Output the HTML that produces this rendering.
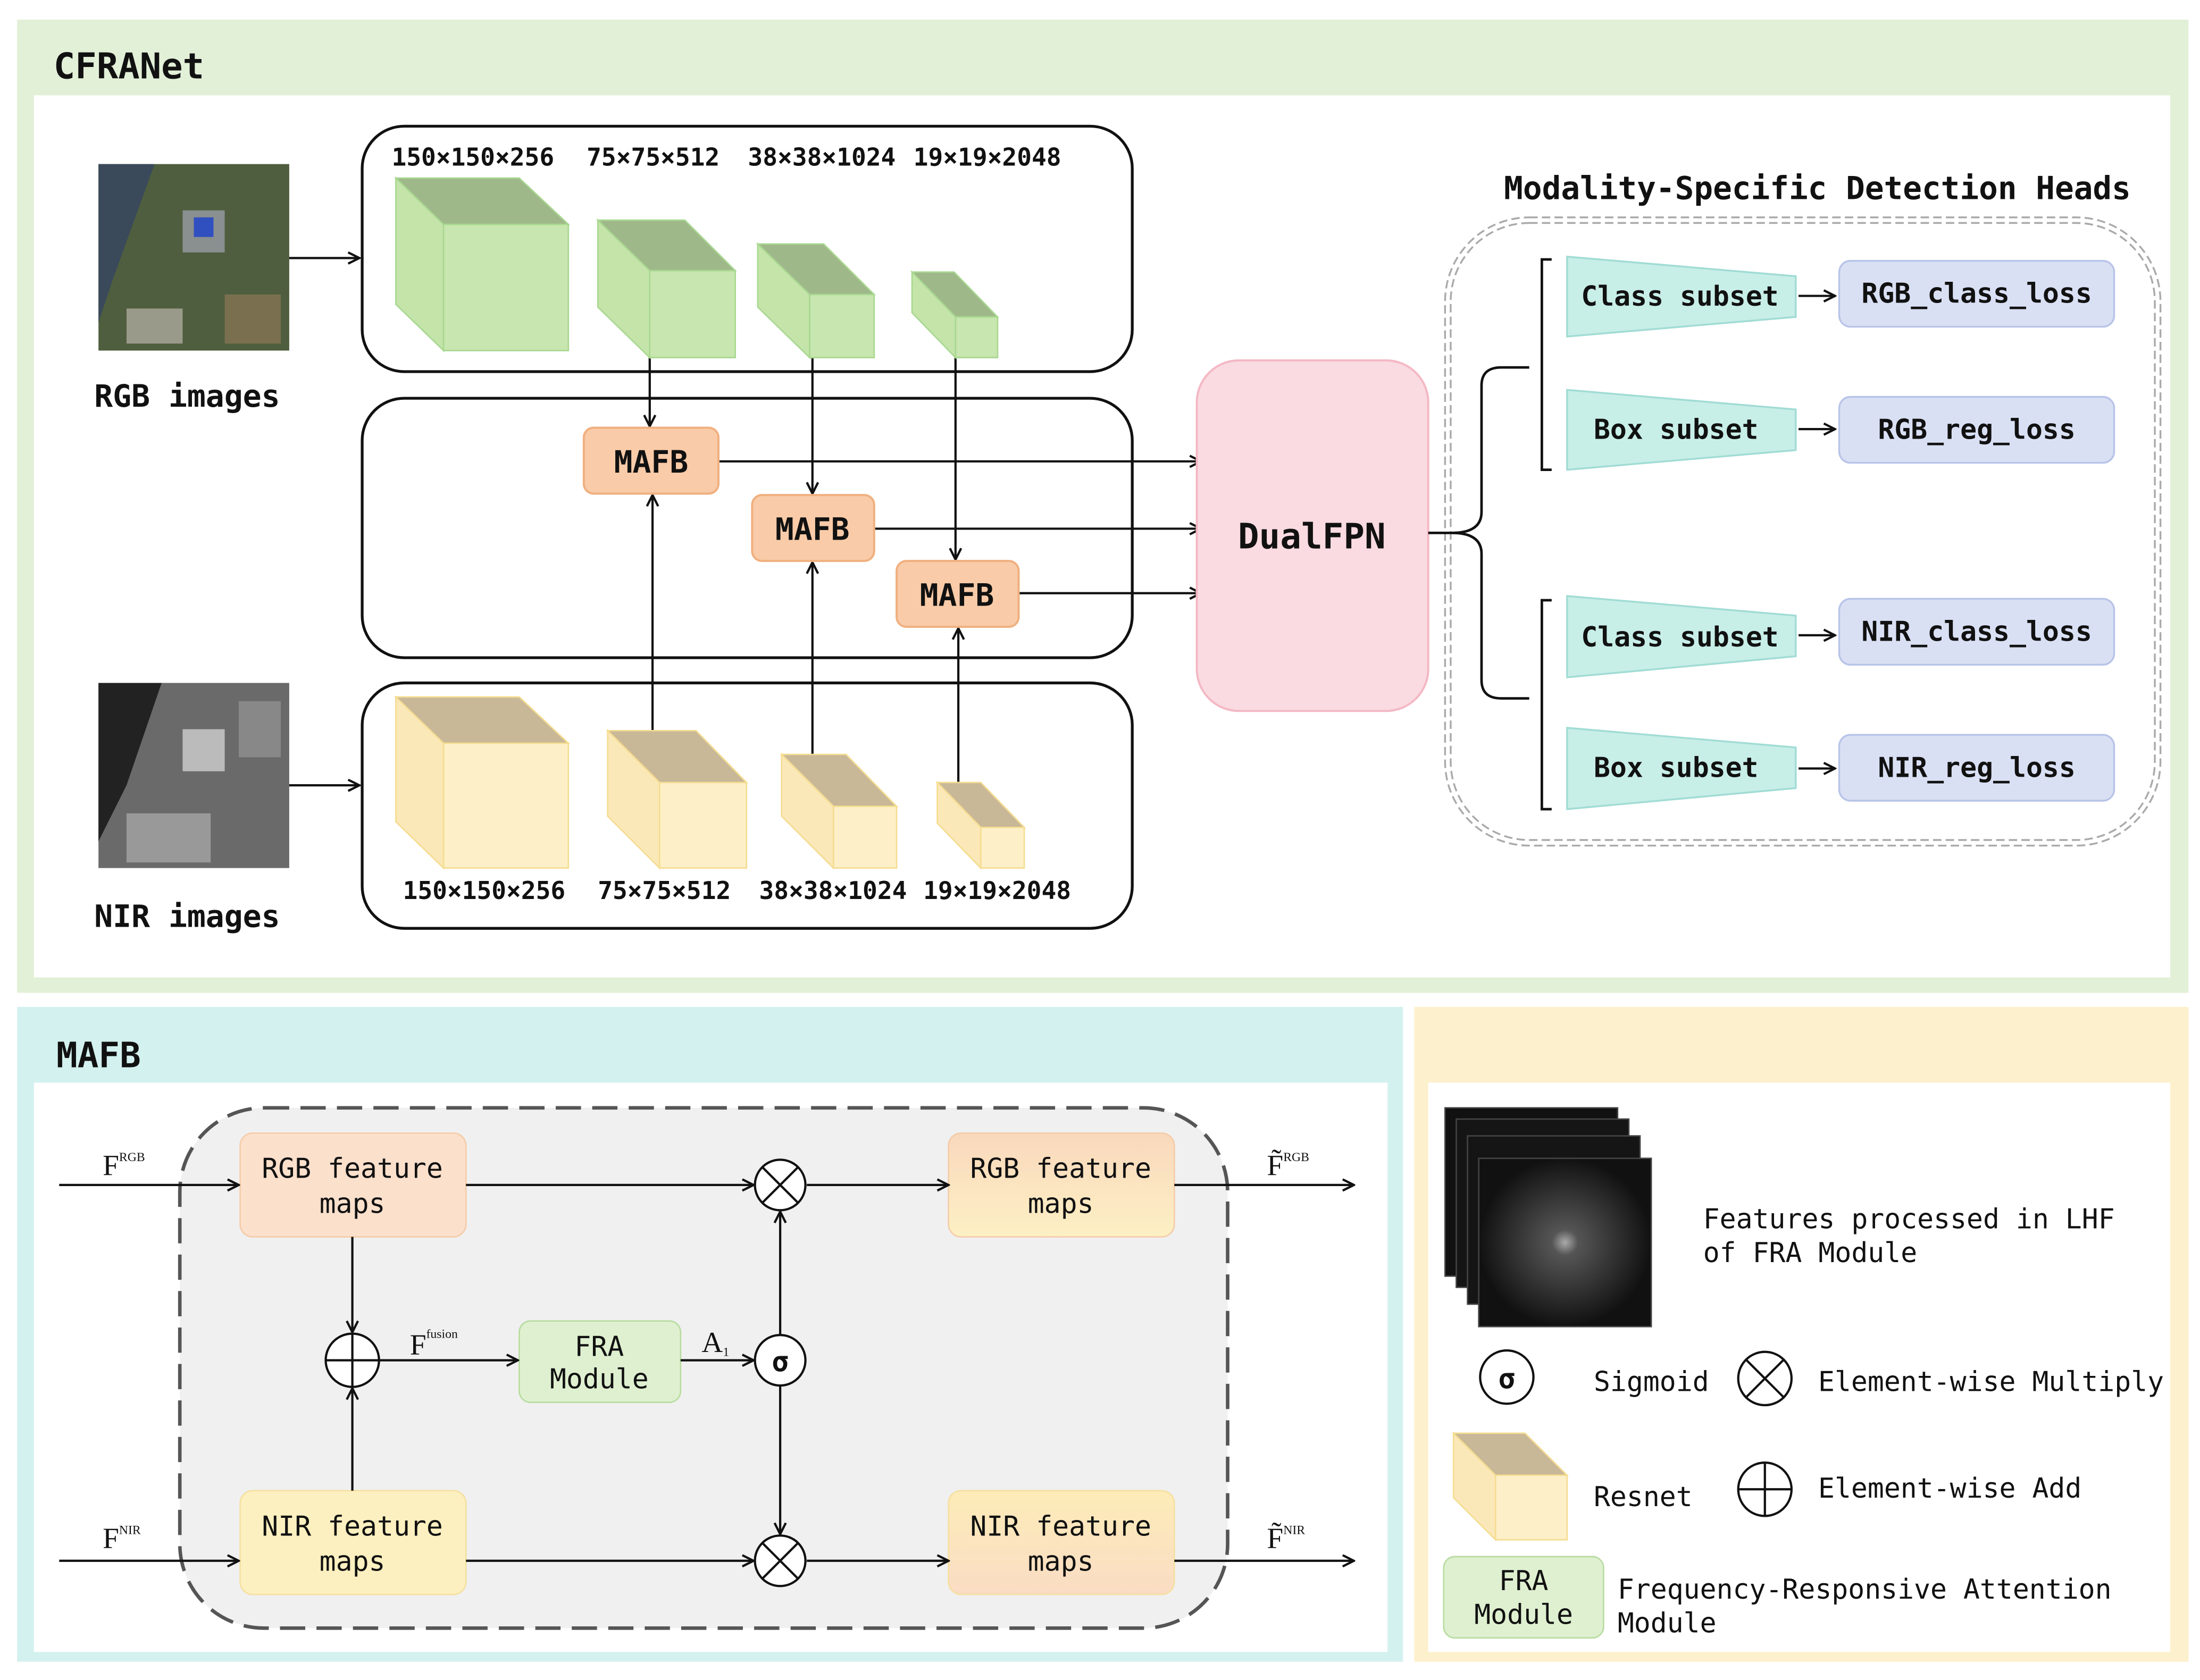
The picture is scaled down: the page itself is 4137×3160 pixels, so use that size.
<!DOCTYPE html>
<html><head><meta charset="utf-8"><style>
html,body{margin:0;padding:0;background:#fff;}
svg{display:block;}
text{font-family:"DejaVu Sans Mono","Liberation Mono",monospace;fill:#111;}
.b{font-weight:bold;}
.s{font-family:"Liberation Serif",serif;}
</style></head><body>
<svg width="4137" height="3160" viewBox="0 0 1568 1198" xmlns="http://www.w3.org/2000/svg">
<defs>
<marker id="a" markerWidth="10" markerHeight="10" refX="9" refY="5" orient="auto" markerUnits="userSpaceOnUse"><path d="M1,1 L9,5 L1,9" fill="none" stroke="#111" stroke-width="1.6"/></marker>
<linearGradient id="g1" x1="0" y1="0" x2="0" y2="1"><stop offset="0" stop-color="#f9d8bc"/><stop offset="1" stop-color="#fdf0c4"/></linearGradient>
<linearGradient id="g2" x1="0" y1="0" x2="0" y2="1"><stop offset="0" stop-color="#fdecb8"/><stop offset="1" stop-color="#fadcc4"/></linearGradient>
<radialGradient id="fr"><stop offset="0" stop-color="#aaa"/><stop offset="0.15" stop-color="#555"/><stop offset="1" stop-color="#111"/></radialGradient>
</defs>
<rect width="1568" height="1198" fill="#fff"/>
<rect x="12" y="14" width="1548" height="694" fill="#e3f0d8"/>
<rect x="24" y="68" width="1523" height="629" fill="#fff"/>
<text x="38" y="56" class="b" font-size="25.5">CFRANet</text>
<rect x="12" y="718" width="988" height="467" fill="#d3f1ef"/>
<rect x="24" y="772" width="965" height="406" fill="#fff"/>
<text x="40" y="761" class="b" font-size="25">MAFB</text>
<rect x="1008" y="718" width="552" height="467" fill="#fdf0cc"/>
<rect x="1018" y="772" width="529" height="406" fill="#fff"/>

<rect x="70" y="117" width="136" height="133" fill="#4f5e3e"/>
<path d="M70,117 L110,117 L80,200 L70,230Z" fill="#3a4a5a"/>
<rect x="130" y="150" width="30" height="30" fill="#8a8f90"/><rect x="138" y="155" width="14" height="14" fill="#3050c0"/>
<rect x="160" y="210" width="40" height="35" fill="#7a7050"/><rect x="90" y="220" width="40" height="25" fill="#9a9a8a"/>
<rect x="70" y="487" width="136" height="132" fill="#6a6a6a"/>
<path d="M70,487 L115,487 L90,560 L70,600Z" fill="#222"/>
<rect x="130" y="520" width="30" height="30" fill="#bbb"/><rect x="90" y="580" width="60" height="35" fill="#999"/><rect x="170" y="500" width="30" height="40" fill="#888"/>
<text x="67" y="290" class="b" font-size="22">RGB images</text>
<text x="67" y="661" class="b" font-size="22">NIR images</text>

<g fill="none" stroke="#111" stroke-width="2">
<rect x="258" y="90" width="549" height="175" rx="30"/>
<rect x="258" y="284" width="549" height="185" rx="30"/>
<rect x="258" y="487" width="549" height="175" rx="30"/>
</g>
<g stroke="#111" stroke-width="1.6" fill="none" marker-end="url(#a)">
<path d="M206,184 H256"/><path d="M206,560 H256"/>
<path d="M463,255 V304"/><path d="M579,255 V352"/><path d="M681,255 V399"/>
<path d="M465,521 V353"/><path d="M579,538 V401"/><path d="M683,558 V448"/>
<path d="M512,329 H856"/><path d="M623,377 H856"/><path d="M726,423 H856"/>
<path d="M1282,211 H1308"/><path d="M1282,306 H1308"/><path d="M1282,453 H1308"/><path d="M1282,548 H1308"/>
</g>

<g stroke="#a8d890" stroke-width="1">
<polygon points="282,127 370,127 405,160 316,160" fill="#9fb88a"/><polygon points="282,127 316,160 316,250 282,217" fill="#c4e4aa"/><rect x="316" y="160" width="89" height="90" fill="#c8e6b0"/>
<polygon points="426,157 488,157 524,193 463,193" fill="#9fb88a"/><polygon points="426,157 463,193 463,255 426,219" fill="#c4e4aa"/><rect x="463" y="193" width="61" height="62" fill="#c8e6b0"/>
<polygon points="540,174 587,174 623,210 577,210" fill="#9fb88a"/><polygon points="540,174 577,210 577,255 540,219" fill="#c4e4aa"/><rect x="577" y="210" width="46" height="45" fill="#c8e6b0"/>
<polygon points="650,194 680,194 711,226 681,226" fill="#9fb88a"/><polygon points="650,194 681,226 681,255 650,223" fill="#c4e4aa"/><rect x="681" y="226" width="30" height="29" fill="#c8e6b0"/>
</g>
<g font-size="17.5">
<text x="279" y="118" class="b">150×150×256</text><text x="418" y="118" class="b">75×75×512</text><text x="533" y="118" class="b">38×38×1024</text><text x="651" y="118" class="b">19×19×2048</text>
<text x="287" y="641" class="b">150×150×256</text><text x="426" y="641" class="b">75×75×512</text><text x="541" y="641" class="b">38×38×1024</text><text x="658" y="641" class="b">19×19×2048</text>
</g>
<g stroke="#f5dc90" stroke-width="1">
<polygon points="282,497 370,497 405,530 316,530" fill="#c8b898"/><polygon points="282,497 316,530 316,619 282,586" fill="#fbe8b8"/><rect x="316" y="530" width="89" height="89" fill="#fdf0c8"/>
<polygon points="433,521 496,521 532,558 470,558" fill="#c8b898"/><polygon points="433,521 470,558 470,619 433,582" fill="#fbe8b8"/><rect x="470" y="558" width="62" height="61" fill="#fdf0c8"/>
<polygon points="557,538 603,538 639,575 594,575" fill="#c8b898"/><polygon points="557,538 594,575 594,619 557,582" fill="#fbe8b8"/><rect x="594" y="575" width="45" height="44" fill="#fdf0c8"/>
<polygon points="668,558 699,558 730,590 699,590" fill="#c8b898"/><polygon points="668,558 699,590 699,619 668,587" fill="#fbe8b8"/><rect x="699" y="590" width="31" height="29" fill="#fdf0c8"/>
</g>
<g fill="#f9cba8" stroke="#f0b080" stroke-width="1.5">
<rect x="416" y="305" width="96" height="47" rx="7"/><rect x="536" y="353" width="87" height="47" rx="7"/><rect x="639" y="400" width="87" height="47" rx="7"/>
</g>
<text x="464" y="337" class="b" font-size="22" text-anchor="middle">MAFB</text>
<text x="579" y="385" class="b" font-size="22" text-anchor="middle">MAFB</text>
<text x="682" y="432" class="b" font-size="22" text-anchor="middle">MAFB</text>
<rect x="853" y="257" width="165" height="250" rx="30" fill="#f9dbe1" stroke="#f4b8c4" stroke-width="1.5"/>
<text x="935" y="391" class="b" font-size="25" text-anchor="middle">DualFPN</text>
<text x="1072" y="142" class="b" font-size="22.5">Modality-Specific Detection Heads</text>
<rect x="1030" y="155" width="510" height="448" rx="60" fill="none" stroke="#aaa" stroke-width="1.3" stroke-dasharray="6,3"/>
<rect x="1034" y="159" width="502" height="440" rx="56" fill="none" stroke="#aaa" stroke-width="1.3" stroke-dasharray="6,3"/>
<g fill="none" stroke="#111" stroke-width="1.8">
<path d="M1018,380 H1035 Q1056,380 1056,365 V275 Q1056,262 1070,262 H1090"/>
<path d="M1035,380 Q1056,380 1056,395 V485 Q1056,498 1070,498 H1090"/>
<path d="M1106,185 H1099 V335 H1106"/>
<path d="M1106,428 H1099 V577 H1106"/>
</g>
<g fill="#c8eee8" stroke="#a0dcd4" stroke-width="1.3">
<polygon points="1117,183 1280,197 1280,226 1117,240"/>
<polygon points="1117,278 1280,292 1280,321 1117,335"/>
<polygon points="1117,425 1280,439 1280,468 1117,483"/>
<polygon points="1117,519 1280,533 1280,562 1117,577"/>
</g>
<g font-size="19.5">
<text x="1127" y="218" class="b">Class subset</text>
<text x="1136" y="313" class="b">Box subset</text>
<text x="1127" y="461" class="b">Class subset</text>
<text x="1136" y="554" class="b">Box subset</text>
</g>
<g fill="#dae0f4" stroke="#b8c4e8" stroke-width="1.3">
<rect x="1311" y="186" width="196" height="47" rx="8"/><rect x="1311" y="283" width="196" height="47" rx="8"/><rect x="1311" y="427" width="196" height="47" rx="8"/><rect x="1311" y="524" width="196" height="47" rx="8"/>
</g>
<g font-size="19.5" text-anchor="middle">
<text x="1409" y="216" class="b">RGB_class_loss</text><text x="1409" y="313" class="b">RGB_reg_loss</text><text x="1409" y="457" class="b">NIR_class_loss</text><text x="1409" y="554" class="b">NIR_reg_loss</text>
</g>

<rect x="128" y="790" width="747" height="371" rx="60" fill="#f0f0f0" stroke="#555" stroke-width="2.5" stroke-dasharray="18,8"/>
<rect x="171" y="808" width="161" height="74" rx="9" fill="#fbe0cc" stroke="#f5cca8"/>
<rect x="676" y="808" width="161" height="74" rx="9" fill="url(#g1)" stroke="#f5cca8"/>
<rect x="171" y="1063" width="161" height="74" rx="9" fill="#fdf0c0" stroke="#f5e0a0"/>
<rect x="676" y="1063" width="161" height="74" rx="9" fill="url(#g2)" stroke="#f5e0a0"/>
<g font-size="19.5" text-anchor="middle">
<text x="251" y="840">RGB feature</text><text x="251" y="865">maps</text>
<text x="756" y="840">RGB feature</text><text x="756" y="865">maps</text>
<text x="251" y="1095">NIR feature</text><text x="756" y="1095">NIR feature</text>
<text x="251" y="1120">maps</text><text x="756" y="1120">maps</text>
</g>
<rect x="370" y="942" width="115" height="58" rx="8" fill="#dff0d0" stroke="#b8dca0"/>
<text x="427" y="967" font-size="19.5" text-anchor="middle">FRA</text><text x="427" y="990" font-size="19.5" text-anchor="middle">Module</text>
<g stroke="#111" stroke-width="1.6" fill="none" marker-end="url(#a)">
<path d="M42,845 H170"/><path d="M837,845 H965"/><path d="M42,1113 H170"/><path d="M837,1113 H965"/>
<path d="M332,845 H537"/><path d="M575,845 H676"/><path d="M332,1113 H537"/><path d="M575,1113 H676"/>
<path d="M251,882 V950"/><path d="M251,1063 V990"/><path d="M270,970 H369"/><path d="M485,970 H537"/>
<path d="M556,952 V864"/><path d="M556,988 V1094"/>
</g>
<g fill="#fff" stroke="#111" stroke-width="1.6">
<circle cx="556" cy="845" r="18"/><circle cx="556" cy="1113" r="18"/><circle cx="251" cy="970" r="19"/><circle cx="556" cy="970" r="18"/>
</g>
<g stroke="#111" stroke-width="1.6">
<path d="M543,832 L569,858 M569,832 L543,858"/><path d="M543,1100 L569,1126 M569,1100 L543,1126"/><path d="M232,970 H270 M251,951 V989"/>
</g>
<text x="556" y="978" font-size="20" text-anchor="middle" class="b">σ</text>
<g>
<text x="73" y="838" font-size="21" class="s">F<tspan font-size="9" dy="-10">RGB</tspan></text>
<text x="73" y="1104" font-size="21" class="s">F<tspan font-size="9" dy="-10">NIR</tspan></text>
<text x="903" y="838" font-size="21" class="s">F̃<tspan font-size="9" dy="-10">RGB</tspan></text>
<text x="903" y="1104" font-size="21" class="s">F̃<tspan font-size="9" dy="-10">NIR</tspan></text>
<text x="292" y="966" font-size="21" class="s">F<tspan font-size="9" dy="-12">fusion</tspan></text>
<text x="500" y="964" font-size="21" class="s">A<tspan font-size="9" dy="3">1</tspan></text>
</g>

<g stroke="#444" stroke-width="1">
<rect x="1030" y="790" width="123" height="120" fill="#111"/>
<rect x="1038" y="798" width="123" height="120" fill="#151515"/>
<rect x="1046" y="810" width="123" height="120" fill="#151515"/>
<rect x="1054" y="826" width="123" height="120" fill="url(#fr)"/>
</g>
<text x="1214" y="876" font-size="19.5">Features processed in LHF</text>
<text x="1214" y="900" font-size="19.5">of FRA Module</text>
<circle cx="1074" cy="982" r="19" fill="#fff" stroke="#111" stroke-width="1.6"/>
<text x="1074" y="990" font-size="20" text-anchor="middle" class="b">σ</text>
<text x="1136" y="992" font-size="19.5">Sigmoid</text>
<circle cx="1258" cy="983" r="19" fill="#fff" stroke="#111" stroke-width="1.6"/>
<path d="M1244,969 L1272,997 M1272,969 L1244,997" stroke="#111" stroke-width="1.6"/>
<text x="1296" y="992" font-size="19.5">Element-wise Multiply</text>
<g stroke="#f5dc90" stroke-width="1">
<polygon points="1036,1022 1087,1022 1117,1052 1066,1052" fill="#c8b898"/><polygon points="1036,1022 1066,1052 1066,1098 1036,1068" fill="#fbe8b8"/><rect x="1066" y="1052" width="51" height="46" fill="#fdf0c8"/>
</g>
<text x="1136" y="1074" font-size="19.5">Resnet</text>
<circle cx="1258" cy="1062" r="19" fill="#fff" stroke="#111" stroke-width="1.6"/>
<path d="M1239,1062 H1277 M1258,1043 V1081" stroke="#111" stroke-width="1.6"/>
<text x="1296" y="1068" font-size="19.5">Element-wise Add</text>
<rect x="1029" y="1110" width="114" height="58" rx="8" fill="#dff0d0" stroke="#b8dca0"/>
<text x="1086" y="1134" font-size="19.5" text-anchor="middle">FRA</text><text x="1086" y="1158" font-size="19.5" text-anchor="middle">Module</text>
<text x="1153" y="1140" font-size="19.5">Frequency-Responsive Attention</text>
<text x="1153" y="1164" font-size="19.5">Module</text>
</svg>
</body></html>
